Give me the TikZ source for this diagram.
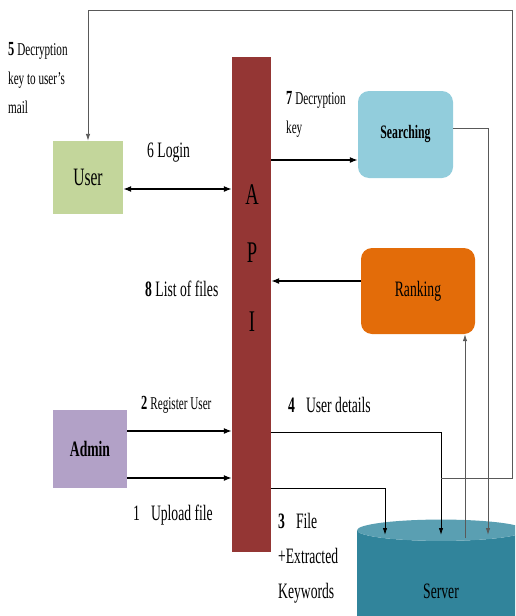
\documentclass[tikz,border=0pt]{standalone}
\usepackage{fontspec}
\setmainfont{Liberation Serif}[FakeStretch=0.62]
\usetikzlibrary{shapes,arrows.meta,positioning,calc}

\definecolor{apired}{HTML}{943634}
\definecolor{usergreen}{HTML}{C3D69B}
\definecolor{adminlilac}{HTML}{B2A1C7}
\definecolor{searchblue}{HTML}{92CDDC}
\definecolor{rankorange}{HTML}{E36C09}
\definecolor{serverbody}{HTML}{31849B}
\definecolor{servertop}{HTML}{5A9FB2}

\tikzset{
  box/.style={inner sep=0pt, draw=none},
  roundbox/.style={box, rounded corners=11pt},
  lbl/.style={anchor=base west, inner sep=0pt, align=left,
              font=\fontsize{22}{35}\selectfont},
  smlbl/.style={anchor=base west, inner sep=0pt, align=left,
              font=\fontsize{18}{29}\selectfont},
  arr/.style={line width=1.3pt, -{Latex[length=8pt,width=6pt]}},
  thinarr/.style={line width=0.9pt, -{Latex[length=7pt,width=4.5pt]}},
  greyarr/.style={thinarr, draw=black!65}
}

\begin{document}
\begin{tikzpicture}[x=1pt,y=-1pt]
\clip (0,0) rectangle (515,616);

% boxes
\node[box, fill=apired, minimum width=39pt, minimum height=495pt] (api) at (251.5,304.5) {};
\foreach \l/\y in {A/195,P/253,I/322}
  \node[inner sep=0pt, font=\fontsize{30}{30}\selectfont] (api\l) at (252,\y) {\l};

\node[box, fill=usergreen, minimum width=70pt, minimum height=73pt,
      font=\fontsize{25}{25}\selectfont] (user) at (88,177.5) {User};
\node[box, fill=adminlilac, minimum width=74pt, minimum height=78pt,
      font=\bfseries\fontsize{22}{22}\selectfont] (admin) at (90,449) {Admin};
\node[roundbox, fill=searchblue, minimum width=95pt, minimum height=87pt,
      font=\bfseries\fontsize{19}{19}\selectfont] (searching) at (405.5,134.5) {Searching};
\node[roundbox, fill=rankorange, minimum width=114pt, minimum height=86pt,
      font=\fontsize{22}{22}\selectfont] (ranking) at (418,291) {Ranking};
\node[cylinder, shape border rotate=90, shape aspect=0.6, inner sep=0pt,
      minimum width=168pt, minimum height=132pt,
      cylinder uses custom fill, cylinder body fill=serverbody, cylinder end fill=servertop,
      font=\fontsize{22}{22}\selectfont] (server) at (441,591) {Server};

% routing points
\coordinate (s3) at (385,535);
\coordinate (s4) at (441,535);
\coordinate (sr) at (465,538);
\coordinate (ss) at (488,535);
\coordinate (b3) at (385,488);
\coordinate (b4) at (441,432);
\coordinate (b5) at (441,478);
\coordinate (c5) at (512,10);

% connectors
\draw[arr, {Latex[length=8pt,width=6pt]}-{Latex[length=8pt,width=6pt]}]
  ([yshift=-11.5pt]user.east) coordinate (u1) -- (u1 -| api.west);
\draw[arr] ([yshift=-25.5pt]searching.west -| api.east) -- ([yshift=-25.5pt]searching.west);
\draw[arr] ([yshift=10pt]ranking.west) coordinate (r1) -- (r1 -| api.east);
\draw[arr] ([yshift=18pt]admin.east) coordinate (a2) -- (a2 -| api.west);
\draw[arr] ([yshift=-29pt]admin.east) coordinate (a1) -- (a1 -| api.west);

\draw[thinarr] (api.east |- b4) -- (b4) -- (s4);
\draw[thinarr] (api.east |- b3) -- (b3) -- (s3);
\draw[greyarr] (b5) -| (c5) -| (user.north);
\draw[greyarr] (sr) -- (sr |- ranking.south);
\draw[greyarr] ([yshift=6.5pt]searching.east) -| (ss);

% labels (base = last line)
\node[smlbl] (l5) at (8,113) {{\bfseries\fontsize{20}{20}\selectfont 5}\,Decryption\\key to user's\\mail};
\node[lbl] (l6) at (147,157) {6 Login};
\node[smlbl] (l7) at (286,133) {{\bfseries\fontsize{20}{20}\selectfont 7}\,Decryption\\key};
\node[lbl] (l8) at (145,296) {{\bfseries 8} List of files};
\node[smlbl] (l2) at (141,409) {{\bfseries\fontsize{20}{20}\selectfont 2}\,Register User};
\node[lbl] (l4) at (288,412) {{\bfseries 4}\enspace User details};
\node[lbl] (l1) at (133,520) {1\enspace Upload file};
\node[lbl] (l3) at (278,598) {{\bfseries 3}\enspace File\\+Extracted\\Keywords};
\end{tikzpicture}
\end{document}
